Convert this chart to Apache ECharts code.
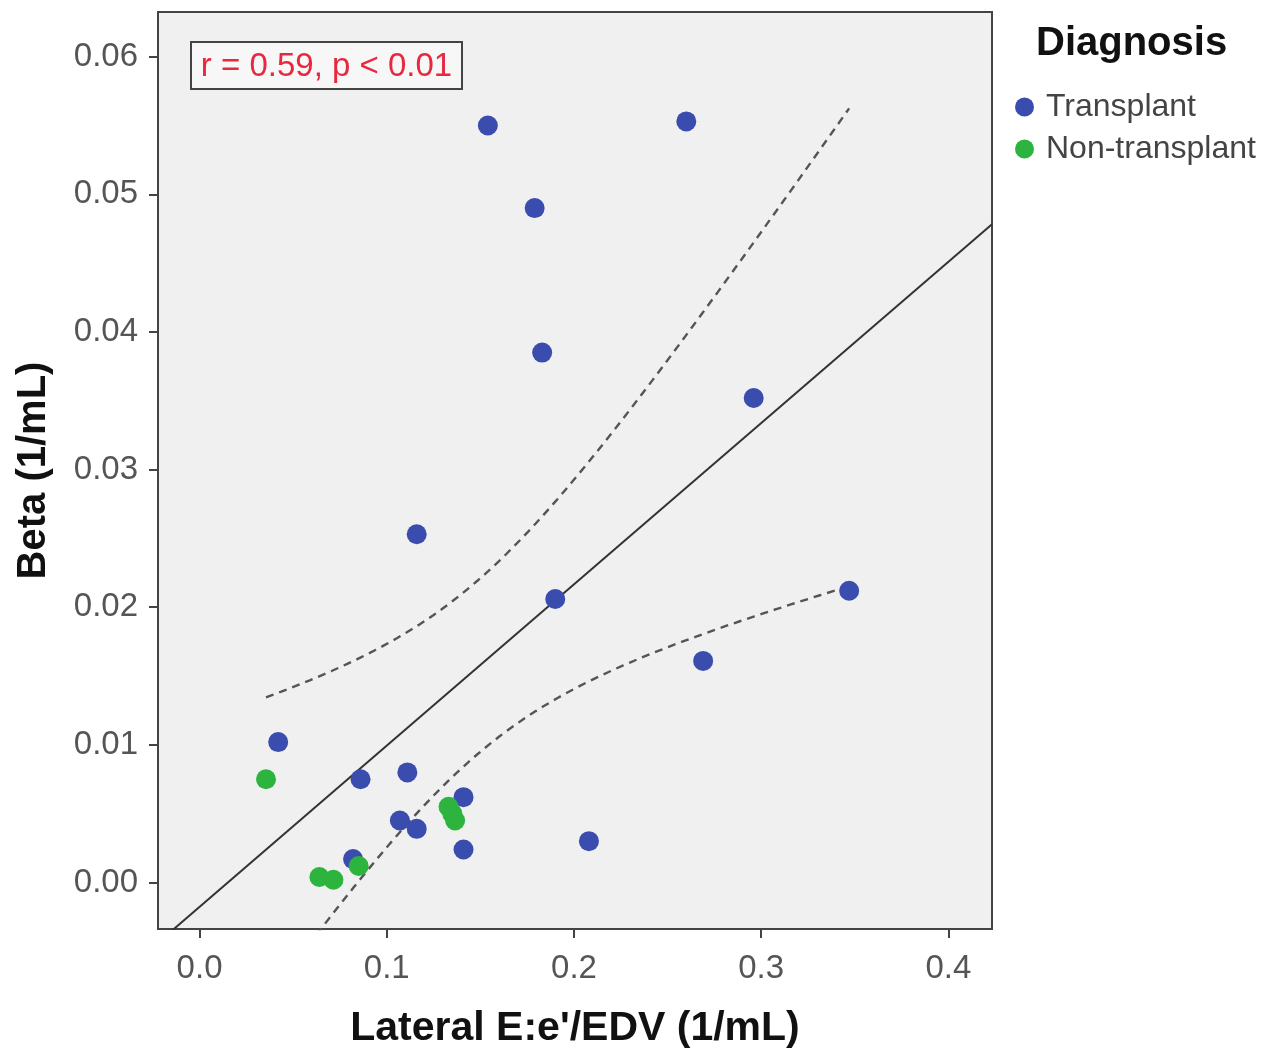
<!DOCTYPE html>
<html>
<head>
<meta charset="utf-8">
<script src="https://cdn.jsdelivr.net/npm/echarts@6/dist/echarts.min.js"></script>
<style>
  html, body { margin: 0; padding: 0; background: #ffffff; }
  #chart { width: 1286px; height: 1057px; }
</style>
</head>
<body>
<div id="chart"></div>
<script>
// Lateral E:e'/EDV (1/mL) against Beta (1/mL), by diagnosis group
const transplantX = [0.154, 0.260, 0.179, 0.183, 0.296, 0.116, 0.190, 0.347, 0.269,
                     0.042, 0.086, 0.111, 0.141, 0.107, 0.116, 0.141, 0.208, 0.082];
const transplantY = [0.0550, 0.0553, 0.0490, 0.0385, 0.0352, 0.0253, 0.0206, 0.0212, 0.0161,
                     0.0102, 0.0075, 0.0080, 0.0062, 0.0045, 0.0039, 0.0024, 0.0030, 0.0017];
const nonTransplantX = [0.0355, 0.133, 0.135, 0.1365, 0.085, 0.064, 0.0715];
const nonTransplantY = [0.0075, 0.0055, 0.0050, 0.0045, 0.0012, 0.0004, 0.0002];

const xTicks = [0.0, 0.1, 0.2, 0.3, 0.4];
const yTicks = [0.00, 0.01, 0.02, 0.03, 0.04, 0.05, 0.06];

const groupNames = ['Transplant', 'Non-transplant'];
const statsText = 'r = 0.59, p < 0.01';

// Two-sided 95% t quantile for n - 2 = 23 degrees of freedom
const T_CRIT = 2.069;

const FONT = "'Liberation Sans', Arial, Helvetica, sans-serif";

// Least-squares fit over all subjects, with the 95% confidence band of the mean
const allX = transplantX.concat(nonTransplantX);
const allY = transplantY.concat(nonTransplantY);
const n = allX.length;
const meanX = allX.reduce((a, b) => a + b, 0) / n;
const meanY = allY.reduce((a, b) => a + b, 0) / n;
let sxx = 0, sxy = 0;
for (let i = 0; i < n; i++) {
  sxx += (allX[i] - meanX) ** 2;
  sxy += (allX[i] - meanX) * (allY[i] - meanY);
}
const slope = sxy / sxx;
const intercept = meanY - slope * meanX;
let ssRes = 0;
for (let i = 0; i < n; i++) {
  ssRes += (allY[i] - (intercept + slope * allX[i])) ** 2;
}
const sRes = Math.sqrt(ssRes / (n - 2));
const fit = x => intercept + slope * x;
const halfWidth = x => T_CRIT * sRes * Math.sqrt(1 / n + (x - meanX) ** 2 / sxx);

const X_MIN = -0.0222, X_MAX = 0.4233;
const Y_MIN = -0.00338, Y_MAX = 0.06325;

const fitLine = [[X_MIN, fit(X_MIN)], [X_MAX, fit(X_MAX)]];
const loX = Math.min(...allX), hiX = Math.max(...allX);
const upperBand = [], lowerBand = [];
const STEPS = 80;
for (let k = 0; k <= STEPS; k++) {
  const x = loX + (hiX - loX) * k / STEPS;
  upperBand.push([x, fit(x) + halfWidth(x)]);
  lowerBand.push([x, fit(x) - halfWidth(x)]);
}

const zip = (xs, ys) => xs.map((x, i) => [x, ys[i]]);

const chart = echarts.init(document.getElementById('chart'), null, { renderer: 'canvas' });

const option = {
  animation: false,
  backgroundColor: '#ffffff',
  textStyle: { fontFamily: FONT },
  title: {
    text: 'Diagnosis',
    left: 1036,
    top: 24,
    padding: 0,
    textStyle: { fontFamily: FONT, fontSize: 40, fontWeight: 'bold', color: '#111111' }
  },
  legend: {
    data: groupNames,
    orient: 'vertical',
    left: 1015,
    top: 91,
    padding: 0,
    itemGap: 10,
    itemWidth: 19,
    itemHeight: 19,
    icon: 'circle',
    textStyle: { fontFamily: FONT, fontSize: 32, color: '#444444', padding: [4, 0, 0, 7] }
  },
  grid: {
    left: 158,
    right: 294,
    top: 12,
    bottom: 128,
    show: true,
    backgroundColor: '#f0f0f0',
    borderColor: '#444444',
    borderWidth: 2,
    containLabel: false
  },
  xAxis: {
    type: 'value',
    min: X_MIN,
    max: X_MAX,
    name: "Lateral E:e'/EDV (1/mL)",
    nameLocation: 'middle',
    nameGap: 79,
    nameTextStyle: { fontFamily: FONT, fontSize: 41, fontWeight: 'bold', color: '#111111' },
    axisLine: { show: true, onZero: false, lineStyle: { color: '#444444', width: 2 } },
    axisTick: { show: true, length: 9, customValues: xTicks, lineStyle: { color: '#444444', width: 2 } },
    axisLabel: {
      customValues: xTicks,
      margin: 23,
      fontFamily: FONT,
      fontSize: 33,
      color: '#555555',
      formatter: v => v.toFixed(1)
    },
    splitLine: { show: false }
  },
  yAxis: {
    type: 'value',
    min: Y_MIN,
    max: Y_MAX,
    name: 'Beta (1/mL)',
    nameLocation: 'middle',
    nameGap: 104,
    nameRotate: 90,
    nameTextStyle: { fontFamily: FONT, fontSize: 40, fontWeight: 'bold', color: '#111111' },
    axisLine: { show: true, onZero: false, lineStyle: { color: '#444444', width: 2 } },
    axisTick: { show: true, length: 9, customValues: yTicks, lineStyle: { color: '#444444', width: 2 } },
    axisLabel: {
      customValues: yTicks,
      margin: 20,
      fontFamily: FONT,
      fontSize: 33,
      color: '#555555',
      formatter: v => v.toFixed(2)
    },
    splitLine: { show: false }
  },
  graphic: [
    {
      type: 'group',
      left: 190,
      top: 41,
      children: [
        {
          type: 'rect',
          shape: { x: 0, y: 0, width: 271, height: 47 },
          style: { fill: '#f7f7f7', stroke: '#444444', lineWidth: 2 }
        },
        {
          type: 'text',
          x: 135.5,
          y: 25,
          style: {
            text: statsText,
            fontFamily: FONT,
            fontSize: 33,
            fill: '#e8283f',
            align: 'center',
            verticalAlign: 'middle'
          }
        }
      ]
    }
  ],
  series: [
    {
      name: 'Fit',
      type: 'line',
      data: fitLine,
      symbol: 'none',
      clip: true,
      silent: true,
      lineStyle: { color: '#333333', width: 2 },
      z: 2
    },
    {
      name: 'Upper 95% CI',
      type: 'line',
      data: upperBand,
      symbol: 'none',
      clip: true,
      silent: true,
      lineStyle: { color: '#555555', width: 2.4, type: [8, 6] },
      z: 2
    },
    {
      name: 'Lower 95% CI',
      type: 'line',
      data: lowerBand,
      symbol: 'none',
      clip: true,
      silent: true,
      lineStyle: { color: '#555555', width: 2.4, type: [8, 6] },
      z: 2
    },
    {
      name: groupNames[0],
      type: 'scatter',
      data: zip(transplantX, transplantY),
      symbol: 'circle',
      symbolSize: 20,
      itemStyle: { color: '#3a4cae', opacity: 1 },
      z: 3
    },
    {
      name: groupNames[1],
      type: 'scatter',
      data: zip(nonTransplantX, nonTransplantY),
      symbol: 'circle',
      symbolSize: 20,
      itemStyle: { color: '#2db43f', opacity: 1 },
      z: 4
    }
  ]
};

chart.setOption(option);
</script>
</body>
</html>
